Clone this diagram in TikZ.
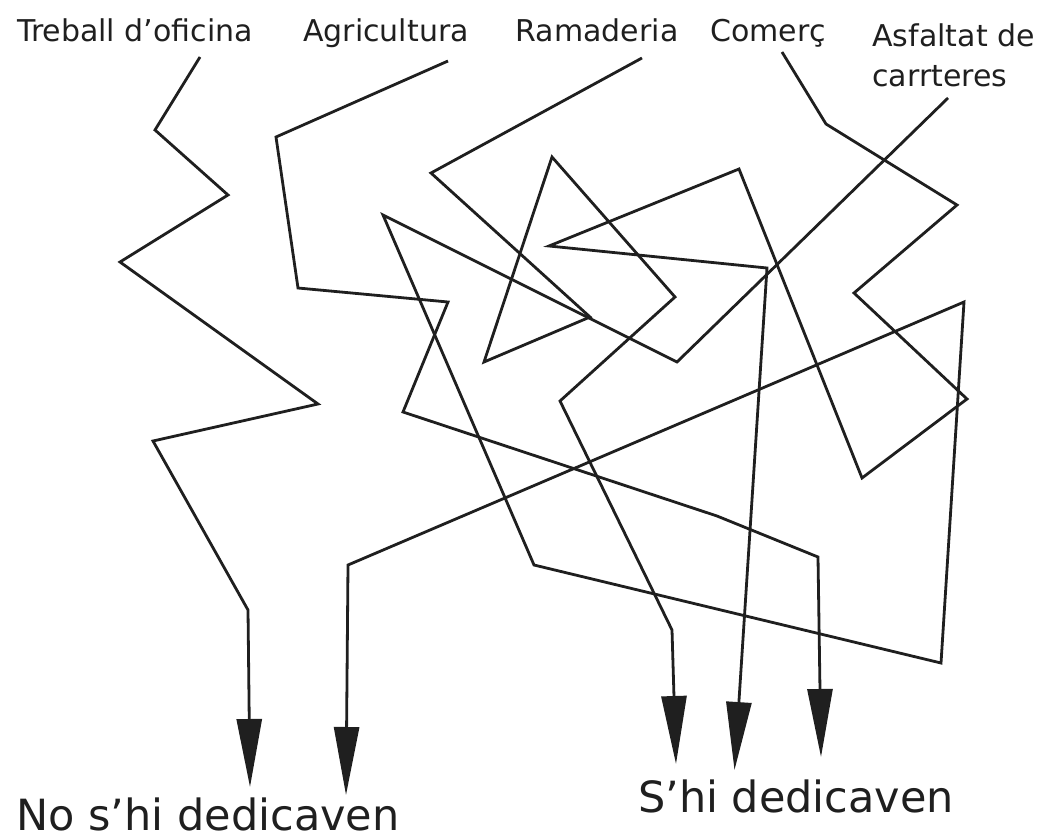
\documentclass[tikz,border=0pt]{standalone}
\usepackage{fontspec}
\setmainfont{DejaVu Sans}
\usetikzlibrary{arrows.meta}
\begin{document}
\begin{tikzpicture}[x=0.5pt,y=-0.5pt,
  wire/.style={line width=1.4pt, line join=miter, draw=black!88},
  tipped/.style={wire, -{Triangle[length=34pt,width=12.5pt]}},
  lab/.style={font=\fontsize{15pt}{20pt}\selectfont, inner sep=0pt, text=black!88},
  big/.style={font=\fontsize{21.5pt}{26pt}\selectfont, inner sep=0pt, text=black!88}]
\useasboundingbox (0,0) rectangle (1049,840);
% labels
\node[lab, anchor=base] (tre) at (135,42) {Treball d’oficina};
\node[lab, anchor=base] (agr) at (386,42) {Agricultura};
\node[lab, anchor=base] (ram) at (597,42) {Ramaderia};
\node[lab, anchor=base] (com) at (768,42) {Comerç};
\node[lab, anchor=north west, align=left] (asf) at (872,23) {Asfaltat de\\carrteres};
\node[big, anchor=base] (no) at (208,830) {No s’hi dedicaven};
\node[big, anchor=base] (si) at (796,812) {S’hi dedicaven};
% start points
\coordinate (s-tre) at (200,57);
\coordinate (s-agr) at (448,61);
\coordinate (s-ram) at (642,58);
\coordinate (s-com) at (782,52);
\coordinate (s-asf) at (948,98);
% arrow tips
\coordinate (no1) at (250,787);
\coordinate (no2) at (346,795);
\coordinate (si1) at (676,764);
\coordinate (si2) at (734.5,770);
\coordinate (si3) at (821,757);
% Treball d'oficina
\draw[tipped] (s-tre) -- (155,130) -- (228,195) -- (120,262) -- (318,404)
  -- (153,441) -- (248,610) -- (no1);
% Agricultura
\draw[tipped] (s-agr) -- (276,137) -- (298,288) -- (448,302) -- (403,412)
  -- (717,516) -- (818,557) -- (si3);
% Ramaderia
\draw[tipped] (s-ram) -- (431,173) -- (590,317) -- (484,362) -- (552,157)
  -- (675,297) -- (560,401) -- (672,630) -- (si1);
% Comerc
\draw[tipped] (s-com) -- (826,124) -- (957,205) -- (854,293) -- (967,399)
  -- (862,478) -- (739,169) -- (549,246) -- (767,268) -- (si2);
% Asfaltat de carreteres
\draw[tipped] (s-asf) -- (677,362) -- (383,215) -- (534,565) -- (941,663)
  -- (964,302) -- (348,565) -- (no2);
\end{tikzpicture}
\end{document}
